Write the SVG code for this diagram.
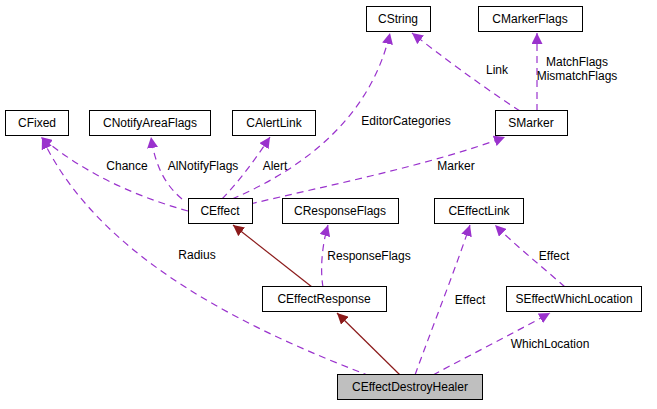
<svg xmlns="http://www.w3.org/2000/svg" width="657" height="409" viewBox="0 0 657 409">
<style>
text{font-family:"Liberation Sans",Arial,sans-serif;font-size:12px;fill:#000}
.n rect{fill:#fff;stroke:#000;stroke-width:1}
.n text{text-anchor:middle}
.d{fill:none;stroke:#9a32cd;stroke-width:1.2;stroke-dasharray:7,5;marker-end:url(#pa)}
.s{fill:none;stroke:#8b1a1a;stroke-width:1.2;marker-end:url(#ra)}
.l{text-anchor:middle}
</style>
<defs>
<marker id="pa" viewBox="0 0 10 10" refX="10" refY="5" markerWidth="11" markerHeight="11" markerUnits="userSpaceOnUse" orient="auto"><path d="M0,0L10,5L0,10z" fill="#9a32cd"/></marker>
<marker id="ra" viewBox="0 0 10 10" refX="10" refY="5" markerWidth="11" markerHeight="11" markerUnits="userSpaceOnUse" orient="auto"><path d="M0,0L10,5L0,10z" fill="#8b1a1a"/></marker>
</defs>
<rect width="657" height="409" fill="#fff"/>
<g id="connectors">
<path class="d" d="M188,211 C130,195 80,170 41,137"/>
<path class="d" d="M370,376 C250,330 100,260 42,138"/>
<path class="d" d="M182,199 C165,185 155,165 151,137"/>
<path class="d" d="M222,199 C240,180 255,160 270,137"/>
<path class="d" d="M232,199 C300,170 370,120 390,33"/>
<path class="d" d="M250,204 C330,185 430,165 505,137"/>
<path class="d" d="M520,111 C480,85 440,55 412,33"/>
<path class="d" d="M537,111 L537,33"/>
<path class="s" d="M312,287 L233,225"/>
<path class="d" d="M323,287 C320,270 322,245 328,225"/>
<path class="s" d="M400,375 L337,313"/>
<path class="d" d="M415,375 C435,320 455,270 470,225"/>
<path class="d" d="M565,287 C540,265 515,245 495,225"/>
<path class="d" d="M433,375 C470,355 510,335 550,313"/>
<text class="l" x="127" y="170">Chance</text>
<text class="l" x="197" y="259">Radius</text>
<text class="l" x="203" y="170">AlNotifyFlags</text>
<text class="l" x="275" y="170">Alert</text>
<text class="l" x="406" y="125">EditorCategories</text>
<text class="l" x="456" y="170">Marker</text>
<text class="l" x="497" y="74">Link</text>
<text class="l" x="577" y="66">MatchFlags</text>
<text class="l" x="577" y="80">MismatchFlags</text>
<text class="l" x="369" y="260">ResponseFlags</text>
<text class="l" x="470" y="304">Effect</text>
<text class="l" x="554" y="260">Effect</text>
<text class="l" x="550" y="348">WhichLocation</text>
</g>
<g id="CString" class="n"><rect x="366.5" y="6.5" width="64" height="25"/><text x="398" y="23">CString</text></g>
<g id="CMarkerFlags" class="n"><rect x="478.5" y="6.5" width="104" height="25"/><text x="530" y="23">CMarkerFlags</text></g>
<g id="CFixed" class="n"><rect x="5.5" y="110.5" width="63" height="25"/><text x="37" y="127">CFixed</text></g>
<g id="CNotifyAreaFlags" class="n"><rect x="89.5" y="110.5" width="121" height="25"/><text x="150" y="127">CNotifyAreaFlags</text></g>
<g id="CAlertLink" class="n"><rect x="232.5" y="110.5" width="83" height="25"/><text x="274" y="127">CAlertLink</text></g>
<g id="SMarker" class="n"><rect x="495.5" y="110.5" width="72" height="25"/><text x="531" y="127">SMarker</text></g>
<g id="CEffect" class="n"><rect x="188.5" y="198.5" width="64" height="25"/><text x="220" y="215">CEffect</text></g>
<g id="CResponseFlags" class="n"><rect x="282.5" y="198.5" width="116" height="25"/><text x="340" y="215">CResponseFlags</text></g>
<g id="CEffectLink" class="n"><rect x="434.5" y="198.5" width="89" height="25"/><text x="479" y="215">CEffectLink</text></g>
<g id="CEffectResponse" class="n"><rect x="262.5" y="286.5" width="124" height="25"/><text x="324" y="303">CEffectResponse</text></g>
<g id="SEffectWhichLocation" class="n"><rect x="506.5" y="286.5" width="135" height="25"/><text x="574" y="303">SEffectWhichLocation</text></g>
<g id="CEffectDestroyHealer" class="n"><rect x="337.5" y="374.5" width="145" height="25" style="fill:#bfbfbf"/><text x="410" y="391">CEffectDestroyHealer</text></g>
</svg>
